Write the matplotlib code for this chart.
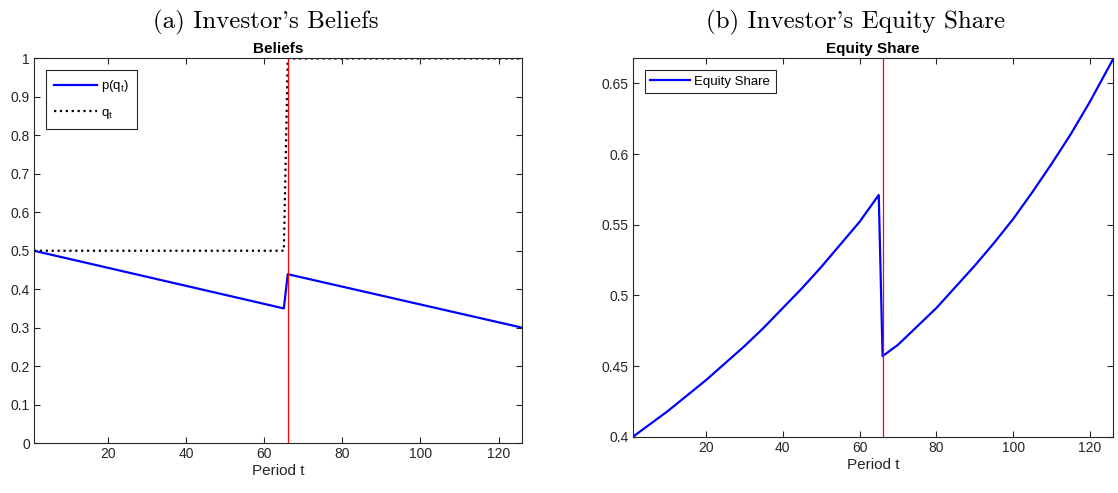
import matplotlib
matplotlib.use("Agg")
import matplotlib.pyplot as plt

plt.rcParams['font.family'] = ['Liberation Sans', 'DejaVu Sans']
plt.rcParams['mathtext.fontset'] = 'custom'
plt.rcParams['mathtext.rm'] = 'Liberation Sans'
plt.rcParams['mathtext.it'] = 'Liberation Sans'

# crencas do investidor
t_crenca = [1, 65, 66, 126]
p_crenca = [0.5, 0.35, 0.439, 0.30]
t_q = [1, 65, 66, 126]
q_valores = [0.5, 0.5, 1.0, 1.0]

# participacao em acoes
t_equity = [1, 5, 10, 15, 20, 25, 30, 35, 40, 45, 50, 55, 60, 65,
            66, 70, 75, 80, 85, 90, 95, 100, 105, 110, 115, 120, 126]
equity = [0.400, 0.408, 0.418, 0.429, 0.440, 0.452, 0.464, 0.477, 0.491, 0.505, 0.520, 0.536, 0.552, 0.571,
          0.457, 0.465, 0.478, 0.491, 0.506, 0.521, 0.537, 0.554, 0.573, 0.593, 0.614, 0.637, 0.667]

t_quebra = 66
cinza = '#262626'

fig = plt.figure(figsize=(11.18, 4.93), dpi=100)
ax1 = fig.add_axes([0.0304, 0.1014, 0.4365, 0.780])
ax2 = fig.add_axes([0.5662, 0.1142, 0.4293, 0.7675])


def estilo(ax):
    ax.tick_params(direction='in', top=True, right=True, length=4, width=0.8,
                   colors=cinza, labelsize=10, pad=3)
    for s in ax.spines.values():
        s.set_color(cinza)
        s.set_linewidth(0.8)
    ax.set_xlabel('Period t', fontsize=11, color=cinza, labelpad=2)
    ax.set_xticks([20, 40, 60, 80, 100, 120])
    ax.set_xlim(1, 126)


ax1.plot(t_crenca, p_crenca, color='blue', lw=1.6, label='p(q$_t$)')
ax1.plot(t_q, q_valores, color='black', lw=1.6, ls=':', label='q$_t$')
ax1.axvline(t_quebra, color='red', lw=0.9)
ax1.set_ylim(0, 1)
ax1.set_yticks([i / 10 for i in range(11)])
ax1.set_yticklabels(['0', '0.1', '0.2', '0.3', '0.4', '0.5', '0.6', '0.7', '0.8', '0.9', '1'])
ax1.set_title('Beliefs', fontsize=11, fontweight='bold', pad=4)
estilo(ax1)
leg = ax1.legend(loc='upper left', fontsize=9.5, fancybox=False, edgecolor=cinza,
                 handlelength=3.3, handletextpad=0.3, labelspacing=0.95, borderpad=0.6,
                 borderaxespad=0.9, framealpha=1)
leg.get_frame().set_linewidth(0.8)

ax2.plot(t_equity, equity, color='blue', lw=1.6, label='Equity Share')
ax2.axvline(t_quebra, color='red', lw=0.9)
ax2.set_ylim(0.4, 0.6677)
ax2.set_yticks([0.4, 0.45, 0.5, 0.55, 0.6, 0.65])
ax2.set_yticklabels(['0.4', '0.45', '0.5', '0.55', '0.6', '0.65'])
ax2.set_title('Equity Share', fontsize=11, fontweight='bold', pad=4)
estilo(ax2)
leg2 = ax2.legend(loc='upper left', fontsize=9.5, fancybox=False, edgecolor=cinza,
                  handlelength=3.0, handletextpad=0.35, borderpad=0.4,
                  borderaxespad=0.9, framealpha=1)
leg2.get_frame().set_linewidth(0.8)

titulo = ['cmr10', 'DejaVu Serif']
fig.text(0.238, 0.955, "(a) Investor's Beliefs", family=titulo, fontsize=18, ha='center', va='center')
fig.text(0.765, 0.955, "(b) Investor's Equity Share", family=titulo, fontsize=18, ha='center', va='center')

fig.savefig('out.png', dpi=100)
